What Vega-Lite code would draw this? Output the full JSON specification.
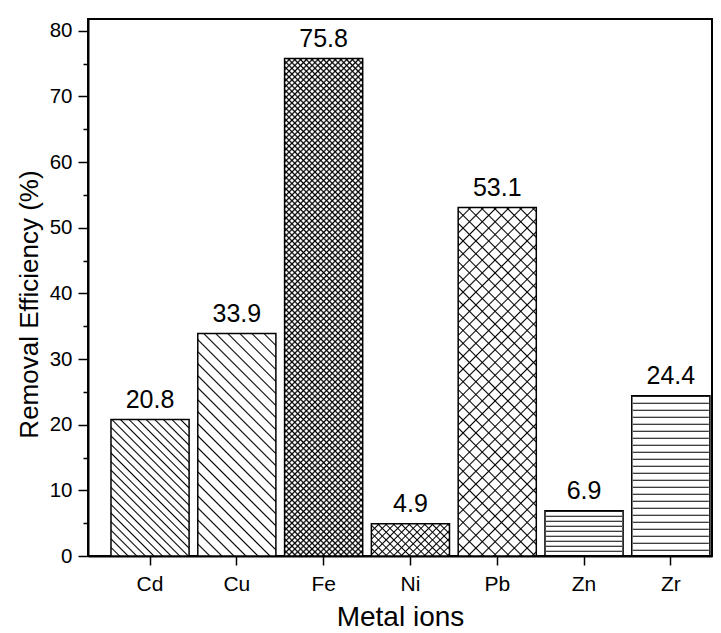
{
  "$schema": "https://vega.github.io/schema/vega-lite/v6.json",
  "width": 624,
  "height": 537,
  "autosize": {"type": "none"},
  "padding": {"left": 88, "top": 19, "right": 9, "bottom": 77},
  "background": "white",
  "data": {
    "values": [
      {"ion": "Cd", "value": 20.8},
      {"ion": "Cu", "value": 33.9},
      {"ion": "Fe", "value": 75.8},
      {"ion": "Ni", "value": 4.9},
      {"ion": "Pb", "value": 53.1},
      {"ion": "Zn", "value": 6.9},
      {"ion": "Zr", "value": 24.4}
    ]
  },
  "encoding": {
    "x": {
      "field": "ion",
      "type": "nominal",
      "scale": {"domain": ["Cd","Cu","Fe","Ni","Pb","Zn","Zr"], "paddingInner": 0.1, "paddingOuter": 0.1445, "align": 0.916},
      "axis": {"title": "Metal ions", "labelAngle": 0, "tickSize": 9, "labelPadding": 8, "labelFontSize": 21, "titleFontSize": 28, "titlePadding": 9}
    },
    "y": {
      "field": "value",
      "type": "quantitative",
      "scale": {"domain": [0, 81.8], "nice": false},
      "axis": {
        "title": "Removal Efficiency (%)",
        "values": [0,5,10,15,20,25,30,35,40,45,50,55,60,65,70,75,80],
        "labelExpr": "datum.value % 10 === 0 ? datum.label : ''",
        "tickSize": {"condition": {"test": "datum.value % 10 !== 0", "value": 5}, "value": 10},
        "labelPadding": 6,
        "labelFontSize": 20.5,
        "titleFontSize": 26,
        "titlePadding": 7,
        "titleY": 285
      }
    }
  },
  "layer": [
    {
      "transform": [{"filter": {"field": "ion", "equal": "Cd"}}],
      "mark": {"type": "bar", "fill": {"gradient": "linear", "x1": 0, "y1": 1, "x2": 0.6769, "y2": -0.1846, "stops": [
        {"offset":0.033,"color":"#fff"},{"offset":0.04,"color":"#000"},{"offset":0.047,"color":"#fff"},
        {"offset":0.073,"color":"#fff"},{"offset":0.08,"color":"#000"},{"offset":0.087,"color":"#fff"},
        {"offset":0.113,"color":"#fff"},{"offset":0.12,"color":"#000"},{"offset":0.127,"color":"#fff"},
        {"offset":0.153,"color":"#fff"},{"offset":0.16,"color":"#000"},{"offset":0.167,"color":"#fff"},
        {"offset":0.193,"color":"#fff"},{"offset":0.2,"color":"#000"},{"offset":0.207,"color":"#fff"},
        {"offset":0.233,"color":"#fff"},{"offset":0.24,"color":"#000"},{"offset":0.247,"color":"#fff"},
        {"offset":0.273,"color":"#fff"},{"offset":0.28,"color":"#000"},{"offset":0.287,"color":"#fff"},
        {"offset":0.313,"color":"#fff"},{"offset":0.32,"color":"#000"},{"offset":0.327,"color":"#fff"},
        {"offset":0.353,"color":"#fff"},{"offset":0.36,"color":"#000"},{"offset":0.367,"color":"#fff"},
        {"offset":0.393,"color":"#fff"},{"offset":0.4,"color":"#000"},{"offset":0.407,"color":"#fff"},
        {"offset":0.433,"color":"#fff"},{"offset":0.44,"color":"#000"},{"offset":0.447,"color":"#fff"},
        {"offset":0.473,"color":"#fff"},{"offset":0.48,"color":"#000"},{"offset":0.487,"color":"#fff"},
        {"offset":0.513,"color":"#fff"},{"offset":0.52,"color":"#000"},{"offset":0.527,"color":"#fff"},
        {"offset":0.553,"color":"#fff"},{"offset":0.56,"color":"#000"},{"offset":0.567,"color":"#fff"},
        {"offset":0.593,"color":"#fff"},{"offset":0.6,"color":"#000"},{"offset":0.607,"color":"#fff"},
        {"offset":0.633,"color":"#fff"},{"offset":0.64,"color":"#000"},{"offset":0.647,"color":"#fff"},
        {"offset":0.673,"color":"#fff"},{"offset":0.68,"color":"#000"},{"offset":0.687,"color":"#fff"},
        {"offset":0.713,"color":"#fff"},{"offset":0.72,"color":"#000"},{"offset":0.727,"color":"#fff"},
        {"offset":0.753,"color":"#fff"},{"offset":0.76,"color":"#000"},{"offset":0.767,"color":"#fff"},
        {"offset":0.793,"color":"#fff"},{"offset":0.8,"color":"#000"},{"offset":0.807,"color":"#fff"},
        {"offset":0.833,"color":"#fff"},{"offset":0.84,"color":"#000"},{"offset":0.847,"color":"#fff"},
        {"offset":0.873,"color":"#fff"},{"offset":0.88,"color":"#000"},{"offset":0.887,"color":"#fff"},
        {"offset":0.913,"color":"#fff"},{"offset":0.92,"color":"#000"},{"offset":0.927,"color":"#fff"},
        {"offset":0.953,"color":"#fff"},{"offset":0.96,"color":"#000"},{"offset":0.967,"color":"#fff"}
      ]}}
    },
    {
      "transform": [{"filter": {"field": "ion", "equal": "Cu"}}],
      "mark": {"type": "bar", "fill": {"gradient": "linear", "x1": 0, "y1": 1, "x2": 0.4216, "y2": -0.2028, "stops": [
        {"offset":0.035,"color":"#fff"},{"offset":0.04,"color":"#000"},{"offset":0.045,"color":"#fff"},
        {"offset":0.075,"color":"#fff"},{"offset":0.08,"color":"#000"},{"offset":0.085,"color":"#fff"},
        {"offset":0.115,"color":"#fff"},{"offset":0.12,"color":"#000"},{"offset":0.125,"color":"#fff"},
        {"offset":0.155,"color":"#fff"},{"offset":0.16,"color":"#000"},{"offset":0.165,"color":"#fff"},
        {"offset":0.195,"color":"#fff"},{"offset":0.2,"color":"#000"},{"offset":0.205,"color":"#fff"},
        {"offset":0.235,"color":"#fff"},{"offset":0.24,"color":"#000"},{"offset":0.245,"color":"#fff"},
        {"offset":0.275,"color":"#fff"},{"offset":0.28,"color":"#000"},{"offset":0.285,"color":"#fff"},
        {"offset":0.315,"color":"#fff"},{"offset":0.32,"color":"#000"},{"offset":0.325,"color":"#fff"},
        {"offset":0.355,"color":"#fff"},{"offset":0.36,"color":"#000"},{"offset":0.365,"color":"#fff"},
        {"offset":0.395,"color":"#fff"},{"offset":0.4,"color":"#000"},{"offset":0.405,"color":"#fff"},
        {"offset":0.435,"color":"#fff"},{"offset":0.44,"color":"#000"},{"offset":0.445,"color":"#fff"},
        {"offset":0.475,"color":"#fff"},{"offset":0.48,"color":"#000"},{"offset":0.485,"color":"#fff"},
        {"offset":0.515,"color":"#fff"},{"offset":0.52,"color":"#000"},{"offset":0.525,"color":"#fff"},
        {"offset":0.555,"color":"#fff"},{"offset":0.56,"color":"#000"},{"offset":0.565,"color":"#fff"},
        {"offset":0.595,"color":"#fff"},{"offset":0.6,"color":"#000"},{"offset":0.605,"color":"#fff"},
        {"offset":0.635,"color":"#fff"},{"offset":0.64,"color":"#000"},{"offset":0.645,"color":"#fff"},
        {"offset":0.675,"color":"#fff"},{"offset":0.68,"color":"#000"},{"offset":0.685,"color":"#fff"},
        {"offset":0.715,"color":"#fff"},{"offset":0.72,"color":"#000"},{"offset":0.725,"color":"#fff"},
        {"offset":0.755,"color":"#fff"},{"offset":0.76,"color":"#000"},{"offset":0.765,"color":"#fff"},
        {"offset":0.795,"color":"#fff"},{"offset":0.8,"color":"#000"},{"offset":0.805,"color":"#fff"},
        {"offset":0.835,"color":"#fff"},{"offset":0.84,"color":"#000"},{"offset":0.845,"color":"#fff"},
        {"offset":0.875,"color":"#fff"},{"offset":0.88,"color":"#000"},{"offset":0.885,"color":"#fff"},
        {"offset":0.915,"color":"#fff"},{"offset":0.92,"color":"#000"},{"offset":0.925,"color":"#fff"},
        {"offset":0.955,"color":"#fff"},{"offset":0.96,"color":"#000"},{"offset":0.965,"color":"#fff"}
      ]}}
    },
    {
      "transform": [{"filter": {"field": "ion", "equal": "Fe"}}],
      "mark": {"type": "bar", "fill": {"gradient": "linear", "x1": 0, "y1": 1, "x2": 0.177, "y2": -0.129, "stops": [
        {"offset":0.007,"color":"#fff"},{"offset":0.01,"color":"#000"},{"offset":0.013,"color":"#fff"},
        {"offset":0.017,"color":"#fff"},{"offset":0.02,"color":"#000"},{"offset":0.023,"color":"#fff"},
        {"offset":0.027,"color":"#fff"},{"offset":0.03,"color":"#000"},{"offset":0.033,"color":"#fff"},
        {"offset":0.037,"color":"#fff"},{"offset":0.04,"color":"#000"},{"offset":0.043,"color":"#fff"},
        {"offset":0.047,"color":"#fff"},{"offset":0.05,"color":"#000"},{"offset":0.053,"color":"#fff"},
        {"offset":0.057,"color":"#fff"},{"offset":0.06,"color":"#000"},{"offset":0.063,"color":"#fff"},
        {"offset":0.067,"color":"#fff"},{"offset":0.07,"color":"#000"},{"offset":0.073,"color":"#fff"},
        {"offset":0.077,"color":"#fff"},{"offset":0.08,"color":"#000"},{"offset":0.083,"color":"#fff"},
        {"offset":0.087,"color":"#fff"},{"offset":0.09,"color":"#000"},{"offset":0.093,"color":"#fff"},
        {"offset":0.097,"color":"#fff"},{"offset":0.10,"color":"#000"},{"offset":0.103,"color":"#fff"},
        {"offset":0.107,"color":"#fff"},{"offset":0.11,"color":"#000"},{"offset":0.113,"color":"#fff"},
        {"offset":0.117,"color":"#fff"},{"offset":0.12,"color":"#000"},{"offset":0.123,"color":"#fff"},
        {"offset":0.127,"color":"#fff"},{"offset":0.13,"color":"#000"},{"offset":0.133,"color":"#fff"},
        {"offset":0.137,"color":"#fff"},{"offset":0.14,"color":"#000"},{"offset":0.143,"color":"#fff"},
        {"offset":0.147,"color":"#fff"},{"offset":0.15,"color":"#000"},{"offset":0.153,"color":"#fff"},
        {"offset":0.157,"color":"#fff"},{"offset":0.16,"color":"#000"},{"offset":0.163,"color":"#fff"},
        {"offset":0.167,"color":"#fff"},{"offset":0.17,"color":"#000"},{"offset":0.173,"color":"#fff"},
        {"offset":0.177,"color":"#fff"},{"offset":0.18,"color":"#000"},{"offset":0.183,"color":"#fff"},
        {"offset":0.187,"color":"#fff"},{"offset":0.19,"color":"#000"},{"offset":0.193,"color":"#fff"},
        {"offset":0.197,"color":"#fff"},{"offset":0.20,"color":"#000"},{"offset":0.203,"color":"#fff"},
        {"offset":0.207,"color":"#fff"},{"offset":0.21,"color":"#000"},{"offset":0.213,"color":"#fff"},
        {"offset":0.217,"color":"#fff"},{"offset":0.22,"color":"#000"},{"offset":0.223,"color":"#fff"},
        {"offset":0.227,"color":"#fff"},{"offset":0.23,"color":"#000"},{"offset":0.233,"color":"#fff"},
        {"offset":0.237,"color":"#fff"},{"offset":0.24,"color":"#000"},{"offset":0.243,"color":"#fff"},
        {"offset":0.247,"color":"#fff"},{"offset":0.25,"color":"#000"},{"offset":0.253,"color":"#fff"},
        {"offset":0.257,"color":"#fff"},{"offset":0.26,"color":"#000"},{"offset":0.263,"color":"#fff"},
        {"offset":0.267,"color":"#fff"},{"offset":0.27,"color":"#000"},{"offset":0.273,"color":"#fff"},
        {"offset":0.277,"color":"#fff"},{"offset":0.28,"color":"#000"},{"offset":0.283,"color":"#fff"},
        {"offset":0.287,"color":"#fff"},{"offset":0.29,"color":"#000"},{"offset":0.293,"color":"#fff"},
        {"offset":0.297,"color":"#fff"},{"offset":0.30,"color":"#000"},{"offset":0.303,"color":"#fff"},
        {"offset":0.307,"color":"#fff"},{"offset":0.31,"color":"#000"},{"offset":0.313,"color":"#fff"},
        {"offset":0.317,"color":"#fff"},{"offset":0.32,"color":"#000"},{"offset":0.323,"color":"#fff"},
        {"offset":0.327,"color":"#fff"},{"offset":0.33,"color":"#000"},{"offset":0.333,"color":"#fff"},
        {"offset":0.337,"color":"#fff"},{"offset":0.34,"color":"#000"},{"offset":0.343,"color":"#fff"},
        {"offset":0.347,"color":"#fff"},{"offset":0.35,"color":"#000"},{"offset":0.353,"color":"#fff"},
        {"offset":0.357,"color":"#fff"},{"offset":0.36,"color":"#000"},{"offset":0.363,"color":"#fff"},
        {"offset":0.367,"color":"#fff"},{"offset":0.37,"color":"#000"},{"offset":0.373,"color":"#fff"},
        {"offset":0.377,"color":"#fff"},{"offset":0.38,"color":"#000"},{"offset":0.383,"color":"#fff"},
        {"offset":0.387,"color":"#fff"},{"offset":0.39,"color":"#000"},{"offset":0.393,"color":"#fff"},
        {"offset":0.397,"color":"#fff"},{"offset":0.40,"color":"#000"},{"offset":0.403,"color":"#fff"},
        {"offset":0.407,"color":"#fff"},{"offset":0.41,"color":"#000"},{"offset":0.413,"color":"#fff"},
        {"offset":0.417,"color":"#fff"},{"offset":0.42,"color":"#000"},{"offset":0.423,"color":"#fff"},
        {"offset":0.427,"color":"#fff"},{"offset":0.43,"color":"#000"},{"offset":0.433,"color":"#fff"},
        {"offset":0.437,"color":"#fff"},{"offset":0.44,"color":"#000"},{"offset":0.443,"color":"#fff"},
        {"offset":0.447,"color":"#fff"},{"offset":0.45,"color":"#000"},{"offset":0.453,"color":"#fff"},
        {"offset":0.457,"color":"#fff"},{"offset":0.46,"color":"#000"},{"offset":0.463,"color":"#fff"},
        {"offset":0.467,"color":"#fff"},{"offset":0.47,"color":"#000"},{"offset":0.473,"color":"#fff"},
        {"offset":0.477,"color":"#fff"},{"offset":0.48,"color":"#000"},{"offset":0.483,"color":"#fff"},
        {"offset":0.487,"color":"#fff"},{"offset":0.49,"color":"#000"},{"offset":0.493,"color":"#fff"},
        {"offset":0.497,"color":"#fff"},{"offset":0.50,"color":"#000"},{"offset":0.503,"color":"#fff"},
        {"offset":0.507,"color":"#fff"},{"offset":0.51,"color":"#000"},{"offset":0.513,"color":"#fff"},
        {"offset":0.517,"color":"#fff"},{"offset":0.52,"color":"#000"},{"offset":0.523,"color":"#fff"},
        {"offset":0.527,"color":"#fff"},{"offset":0.53,"color":"#000"},{"offset":0.533,"color":"#fff"},
        {"offset":0.537,"color":"#fff"},{"offset":0.54,"color":"#000"},{"offset":0.543,"color":"#fff"},
        {"offset":0.547,"color":"#fff"},{"offset":0.55,"color":"#000"},{"offset":0.553,"color":"#fff"},
        {"offset":0.557,"color":"#fff"},{"offset":0.56,"color":"#000"},{"offset":0.563,"color":"#fff"},
        {"offset":0.567,"color":"#fff"},{"offset":0.57,"color":"#000"},{"offset":0.573,"color":"#fff"},
        {"offset":0.577,"color":"#fff"},{"offset":0.58,"color":"#000"},{"offset":0.583,"color":"#fff"},
        {"offset":0.587,"color":"#fff"},{"offset":0.59,"color":"#000"},{"offset":0.593,"color":"#fff"},
        {"offset":0.597,"color":"#fff"},{"offset":0.60,"color":"#000"},{"offset":0.603,"color":"#fff"},
        {"offset":0.607,"color":"#fff"},{"offset":0.61,"color":"#000"},{"offset":0.613,"color":"#fff"},
        {"offset":0.617,"color":"#fff"},{"offset":0.62,"color":"#000"},{"offset":0.623,"color":"#fff"},
        {"offset":0.627,"color":"#fff"},{"offset":0.63,"color":"#000"},{"offset":0.633,"color":"#fff"},
        {"offset":0.637,"color":"#fff"},{"offset":0.64,"color":"#000"},{"offset":0.643,"color":"#fff"},
        {"offset":0.647,"color":"#fff"},{"offset":0.65,"color":"#000"},{"offset":0.653,"color":"#fff"},
        {"offset":0.657,"color":"#fff"},{"offset":0.66,"color":"#000"},{"offset":0.663,"color":"#fff"},
        {"offset":0.667,"color":"#fff"},{"offset":0.67,"color":"#000"},{"offset":0.673,"color":"#fff"},
        {"offset":0.677,"color":"#fff"},{"offset":0.68,"color":"#000"},{"offset":0.683,"color":"#fff"},
        {"offset":0.687,"color":"#fff"},{"offset":0.69,"color":"#000"},{"offset":0.693,"color":"#fff"},
        {"offset":0.697,"color":"#fff"},{"offset":0.70,"color":"#000"},{"offset":0.703,"color":"#fff"},
        {"offset":0.707,"color":"#fff"},{"offset":0.71,"color":"#000"},{"offset":0.713,"color":"#fff"},
        {"offset":0.717,"color":"#fff"},{"offset":0.72,"color":"#000"},{"offset":0.723,"color":"#fff"},
        {"offset":0.727,"color":"#fff"},{"offset":0.73,"color":"#000"},{"offset":0.733,"color":"#fff"},
        {"offset":0.737,"color":"#fff"},{"offset":0.74,"color":"#000"},{"offset":0.743,"color":"#fff"},
        {"offset":0.747,"color":"#fff"},{"offset":0.75,"color":"#000"},{"offset":0.753,"color":"#fff"},
        {"offset":0.757,"color":"#fff"},{"offset":0.76,"color":"#000"},{"offset":0.763,"color":"#fff"},
        {"offset":0.767,"color":"#fff"},{"offset":0.77,"color":"#000"},{"offset":0.773,"color":"#fff"},
        {"offset":0.777,"color":"#fff"},{"offset":0.78,"color":"#000"},{"offset":0.783,"color":"#fff"},
        {"offset":0.787,"color":"#fff"},{"offset":0.79,"color":"#000"},{"offset":0.793,"color":"#fff"},
        {"offset":0.797,"color":"#fff"},{"offset":0.80,"color":"#000"},{"offset":0.803,"color":"#fff"},
        {"offset":0.807,"color":"#fff"},{"offset":0.81,"color":"#000"},{"offset":0.813,"color":"#fff"},
        {"offset":0.817,"color":"#fff"},{"offset":0.82,"color":"#000"},{"offset":0.823,"color":"#fff"},
        {"offset":0.827,"color":"#fff"},{"offset":0.83,"color":"#000"},{"offset":0.833,"color":"#fff"},
        {"offset":0.837,"color":"#fff"},{"offset":0.84,"color":"#000"},{"offset":0.843,"color":"#fff"},
        {"offset":0.847,"color":"#fff"},{"offset":0.85,"color":"#000"},{"offset":0.853,"color":"#fff"},
        {"offset":0.857,"color":"#fff"},{"offset":0.86,"color":"#000"},{"offset":0.863,"color":"#fff"},
        {"offset":0.867,"color":"#fff"},{"offset":0.87,"color":"#000"},{"offset":0.873,"color":"#fff"},
        {"offset":0.877,"color":"#fff"},{"offset":0.88,"color":"#000"},{"offset":0.883,"color":"#fff"},
        {"offset":0.887,"color":"#fff"},{"offset":0.89,"color":"#000"},{"offset":0.893,"color":"#fff"},
        {"offset":0.897,"color":"#fff"},{"offset":0.90,"color":"#000"},{"offset":0.903,"color":"#fff"},
        {"offset":0.907,"color":"#fff"},{"offset":0.91,"color":"#000"},{"offset":0.913,"color":"#fff"},
        {"offset":0.917,"color":"#fff"},{"offset":0.92,"color":"#000"},{"offset":0.923,"color":"#fff"},
        {"offset":0.927,"color":"#fff"},{"offset":0.93,"color":"#000"},{"offset":0.933,"color":"#fff"},
        {"offset":0.937,"color":"#fff"},{"offset":0.94,"color":"#000"},{"offset":0.943,"color":"#fff"},
        {"offset":0.947,"color":"#fff"},{"offset":0.95,"color":"#000"},{"offset":0.953,"color":"#fff"},
        {"offset":0.957,"color":"#fff"},{"offset":0.96,"color":"#000"},{"offset":0.963,"color":"#fff"},
        {"offset":0.967,"color":"#fff"},{"offset":0.97,"color":"#000"},{"offset":0.973,"color":"#fff"},
        {"offset":0.977,"color":"#fff"},{"offset":0.98,"color":"#000"},{"offset":0.983,"color":"#fff"},
        {"offset":0.987,"color":"#fff"},{"offset":0.99,"color":"#000"},{"offset":0.993,"color":"#fff"}
      ]}}
    },
    {
      "transform": [{"filter": {"field": "ion", "equal": "Fe"}}],
      "mark": {"type": "bar", "fill": {"gradient": "linear", "x1": 0, "y1": 0, "x2": 0.177, "y2": 1.129, "stops": [
        {"offset":0.007,"color":"#0000"},{"offset":0.01,"color":"#000"},{"offset":0.013,"color":"#0000"},
        {"offset":0.017,"color":"#0000"},{"offset":0.02,"color":"#000"},{"offset":0.023,"color":"#0000"},
        {"offset":0.027,"color":"#0000"},{"offset":0.03,"color":"#000"},{"offset":0.033,"color":"#0000"},
        {"offset":0.037,"color":"#0000"},{"offset":0.04,"color":"#000"},{"offset":0.043,"color":"#0000"},
        {"offset":0.047,"color":"#0000"},{"offset":0.05,"color":"#000"},{"offset":0.053,"color":"#0000"},
        {"offset":0.057,"color":"#0000"},{"offset":0.06,"color":"#000"},{"offset":0.063,"color":"#0000"},
        {"offset":0.067,"color":"#0000"},{"offset":0.07,"color":"#000"},{"offset":0.073,"color":"#0000"},
        {"offset":0.077,"color":"#0000"},{"offset":0.08,"color":"#000"},{"offset":0.083,"color":"#0000"},
        {"offset":0.087,"color":"#0000"},{"offset":0.09,"color":"#000"},{"offset":0.093,"color":"#0000"},
        {"offset":0.097,"color":"#0000"},{"offset":0.10,"color":"#000"},{"offset":0.103,"color":"#0000"},
        {"offset":0.107,"color":"#0000"},{"offset":0.11,"color":"#000"},{"offset":0.113,"color":"#0000"},
        {"offset":0.117,"color":"#0000"},{"offset":0.12,"color":"#000"},{"offset":0.123,"color":"#0000"},
        {"offset":0.127,"color":"#0000"},{"offset":0.13,"color":"#000"},{"offset":0.133,"color":"#0000"},
        {"offset":0.137,"color":"#0000"},{"offset":0.14,"color":"#000"},{"offset":0.143,"color":"#0000"},
        {"offset":0.147,"color":"#0000"},{"offset":0.15,"color":"#000"},{"offset":0.153,"color":"#0000"},
        {"offset":0.157,"color":"#0000"},{"offset":0.16,"color":"#000"},{"offset":0.163,"color":"#0000"},
        {"offset":0.167,"color":"#0000"},{"offset":0.17,"color":"#000"},{"offset":0.173,"color":"#0000"},
        {"offset":0.177,"color":"#0000"},{"offset":0.18,"color":"#000"},{"offset":0.183,"color":"#0000"},
        {"offset":0.187,"color":"#0000"},{"offset":0.19,"color":"#000"},{"offset":0.193,"color":"#0000"},
        {"offset":0.197,"color":"#0000"},{"offset":0.20,"color":"#000"},{"offset":0.203,"color":"#0000"},
        {"offset":0.207,"color":"#0000"},{"offset":0.21,"color":"#000"},{"offset":0.213,"color":"#0000"},
        {"offset":0.217,"color":"#0000"},{"offset":0.22,"color":"#000"},{"offset":0.223,"color":"#0000"},
        {"offset":0.227,"color":"#0000"},{"offset":0.23,"color":"#000"},{"offset":0.233,"color":"#0000"},
        {"offset":0.237,"color":"#0000"},{"offset":0.24,"color":"#000"},{"offset":0.243,"color":"#0000"},
        {"offset":0.247,"color":"#0000"},{"offset":0.25,"color":"#000"},{"offset":0.253,"color":"#0000"},
        {"offset":0.257,"color":"#0000"},{"offset":0.26,"color":"#000"},{"offset":0.263,"color":"#0000"},
        {"offset":0.267,"color":"#0000"},{"offset":0.27,"color":"#000"},{"offset":0.273,"color":"#0000"},
        {"offset":0.277,"color":"#0000"},{"offset":0.28,"color":"#000"},{"offset":0.283,"color":"#0000"},
        {"offset":0.287,"color":"#0000"},{"offset":0.29,"color":"#000"},{"offset":0.293,"color":"#0000"},
        {"offset":0.297,"color":"#0000"},{"offset":0.30,"color":"#000"},{"offset":0.303,"color":"#0000"},
        {"offset":0.307,"color":"#0000"},{"offset":0.31,"color":"#000"},{"offset":0.313,"color":"#0000"},
        {"offset":0.317,"color":"#0000"},{"offset":0.32,"color":"#000"},{"offset":0.323,"color":"#0000"},
        {"offset":0.327,"color":"#0000"},{"offset":0.33,"color":"#000"},{"offset":0.333,"color":"#0000"},
        {"offset":0.337,"color":"#0000"},{"offset":0.34,"color":"#000"},{"offset":0.343,"color":"#0000"},
        {"offset":0.347,"color":"#0000"},{"offset":0.35,"color":"#000"},{"offset":0.353,"color":"#0000"},
        {"offset":0.357,"color":"#0000"},{"offset":0.36,"color":"#000"},{"offset":0.363,"color":"#0000"},
        {"offset":0.367,"color":"#0000"},{"offset":0.37,"color":"#000"},{"offset":0.373,"color":"#0000"},
        {"offset":0.377,"color":"#0000"},{"offset":0.38,"color":"#000"},{"offset":0.383,"color":"#0000"},
        {"offset":0.387,"color":"#0000"},{"offset":0.39,"color":"#000"},{"offset":0.393,"color":"#0000"},
        {"offset":0.397,"color":"#0000"},{"offset":0.40,"color":"#000"},{"offset":0.403,"color":"#0000"},
        {"offset":0.407,"color":"#0000"},{"offset":0.41,"color":"#000"},{"offset":0.413,"color":"#0000"},
        {"offset":0.417,"color":"#0000"},{"offset":0.42,"color":"#000"},{"offset":0.423,"color":"#0000"},
        {"offset":0.427,"color":"#0000"},{"offset":0.43,"color":"#000"},{"offset":0.433,"color":"#0000"},
        {"offset":0.437,"color":"#0000"},{"offset":0.44,"color":"#000"},{"offset":0.443,"color":"#0000"},
        {"offset":0.447,"color":"#0000"},{"offset":0.45,"color":"#000"},{"offset":0.453,"color":"#0000"},
        {"offset":0.457,"color":"#0000"},{"offset":0.46,"color":"#000"},{"offset":0.463,"color":"#0000"},
        {"offset":0.467,"color":"#0000"},{"offset":0.47,"color":"#000"},{"offset":0.473,"color":"#0000"},
        {"offset":0.477,"color":"#0000"},{"offset":0.48,"color":"#000"},{"offset":0.483,"color":"#0000"},
        {"offset":0.487,"color":"#0000"},{"offset":0.49,"color":"#000"},{"offset":0.493,"color":"#0000"},
        {"offset":0.497,"color":"#0000"},{"offset":0.50,"color":"#000"},{"offset":0.503,"color":"#0000"},
        {"offset":0.507,"color":"#0000"},{"offset":0.51,"color":"#000"},{"offset":0.513,"color":"#0000"},
        {"offset":0.517,"color":"#0000"},{"offset":0.52,"color":"#000"},{"offset":0.523,"color":"#0000"},
        {"offset":0.527,"color":"#0000"},{"offset":0.53,"color":"#000"},{"offset":0.533,"color":"#0000"},
        {"offset":0.537,"color":"#0000"},{"offset":0.54,"color":"#000"},{"offset":0.543,"color":"#0000"},
        {"offset":0.547,"color":"#0000"},{"offset":0.55,"color":"#000"},{"offset":0.553,"color":"#0000"},
        {"offset":0.557,"color":"#0000"},{"offset":0.56,"color":"#000"},{"offset":0.563,"color":"#0000"},
        {"offset":0.567,"color":"#0000"},{"offset":0.57,"color":"#000"},{"offset":0.573,"color":"#0000"},
        {"offset":0.577,"color":"#0000"},{"offset":0.58,"color":"#000"},{"offset":0.583,"color":"#0000"},
        {"offset":0.587,"color":"#0000"},{"offset":0.59,"color":"#000"},{"offset":0.593,"color":"#0000"},
        {"offset":0.597,"color":"#0000"},{"offset":0.60,"color":"#000"},{"offset":0.603,"color":"#0000"},
        {"offset":0.607,"color":"#0000"},{"offset":0.61,"color":"#000"},{"offset":0.613,"color":"#0000"},
        {"offset":0.617,"color":"#0000"},{"offset":0.62,"color":"#000"},{"offset":0.623,"color":"#0000"},
        {"offset":0.627,"color":"#0000"},{"offset":0.63,"color":"#000"},{"offset":0.633,"color":"#0000"},
        {"offset":0.637,"color":"#0000"},{"offset":0.64,"color":"#000"},{"offset":0.643,"color":"#0000"},
        {"offset":0.647,"color":"#0000"},{"offset":0.65,"color":"#000"},{"offset":0.653,"color":"#0000"},
        {"offset":0.657,"color":"#0000"},{"offset":0.66,"color":"#000"},{"offset":0.663,"color":"#0000"},
        {"offset":0.667,"color":"#0000"},{"offset":0.67,"color":"#000"},{"offset":0.673,"color":"#0000"},
        {"offset":0.677,"color":"#0000"},{"offset":0.68,"color":"#000"},{"offset":0.683,"color":"#0000"},
        {"offset":0.687,"color":"#0000"},{"offset":0.69,"color":"#000"},{"offset":0.693,"color":"#0000"},
        {"offset":0.697,"color":"#0000"},{"offset":0.70,"color":"#000"},{"offset":0.703,"color":"#0000"},
        {"offset":0.707,"color":"#0000"},{"offset":0.71,"color":"#000"},{"offset":0.713,"color":"#0000"},
        {"offset":0.717,"color":"#0000"},{"offset":0.72,"color":"#000"},{"offset":0.723,"color":"#0000"},
        {"offset":0.727,"color":"#0000"},{"offset":0.73,"color":"#000"},{"offset":0.733,"color":"#0000"},
        {"offset":0.737,"color":"#0000"},{"offset":0.74,"color":"#000"},{"offset":0.743,"color":"#0000"},
        {"offset":0.747,"color":"#0000"},{"offset":0.75,"color":"#000"},{"offset":0.753,"color":"#0000"},
        {"offset":0.757,"color":"#0000"},{"offset":0.76,"color":"#000"},{"offset":0.763,"color":"#0000"},
        {"offset":0.767,"color":"#0000"},{"offset":0.77,"color":"#000"},{"offset":0.773,"color":"#0000"},
        {"offset":0.777,"color":"#0000"},{"offset":0.78,"color":"#000"},{"offset":0.783,"color":"#0000"},
        {"offset":0.787,"color":"#0000"},{"offset":0.79,"color":"#000"},{"offset":0.793,"color":"#0000"},
        {"offset":0.797,"color":"#0000"},{"offset":0.80,"color":"#000"},{"offset":0.803,"color":"#0000"},
        {"offset":0.807,"color":"#0000"},{"offset":0.81,"color":"#000"},{"offset":0.813,"color":"#0000"},
        {"offset":0.817,"color":"#0000"},{"offset":0.82,"color":"#000"},{"offset":0.823,"color":"#0000"},
        {"offset":0.827,"color":"#0000"},{"offset":0.83,"color":"#000"},{"offset":0.833,"color":"#0000"},
        {"offset":0.837,"color":"#0000"},{"offset":0.84,"color":"#000"},{"offset":0.843,"color":"#0000"},
        {"offset":0.847,"color":"#0000"},{"offset":0.85,"color":"#000"},{"offset":0.853,"color":"#0000"},
        {"offset":0.857,"color":"#0000"},{"offset":0.86,"color":"#000"},{"offset":0.863,"color":"#0000"},
        {"offset":0.867,"color":"#0000"},{"offset":0.87,"color":"#000"},{"offset":0.873,"color":"#0000"},
        {"offset":0.877,"color":"#0000"},{"offset":0.88,"color":"#000"},{"offset":0.883,"color":"#0000"},
        {"offset":0.887,"color":"#0000"},{"offset":0.89,"color":"#000"},{"offset":0.893,"color":"#0000"},
        {"offset":0.897,"color":"#0000"},{"offset":0.90,"color":"#000"},{"offset":0.903,"color":"#0000"},
        {"offset":0.907,"color":"#0000"},{"offset":0.91,"color":"#000"},{"offset":0.913,"color":"#0000"},
        {"offset":0.917,"color":"#0000"},{"offset":0.92,"color":"#000"},{"offset":0.923,"color":"#0000"},
        {"offset":0.927,"color":"#0000"},{"offset":0.93,"color":"#000"},{"offset":0.933,"color":"#0000"},
        {"offset":0.937,"color":"#0000"},{"offset":0.94,"color":"#000"},{"offset":0.943,"color":"#0000"},
        {"offset":0.947,"color":"#0000"},{"offset":0.95,"color":"#000"},{"offset":0.953,"color":"#0000"},
        {"offset":0.957,"color":"#0000"},{"offset":0.96,"color":"#000"},{"offset":0.963,"color":"#0000"},
        {"offset":0.967,"color":"#0000"},{"offset":0.97,"color":"#000"},{"offset":0.973,"color":"#0000"},
        {"offset":0.977,"color":"#0000"},{"offset":0.98,"color":"#000"},{"offset":0.983,"color":"#0000"},
        {"offset":0.987,"color":"#0000"},{"offset":0.99,"color":"#000"},{"offset":0.993,"color":"#0000"}
      ]}}
    },
    {
      "transform": [{"filter": {"field": "ion", "equal": "Ni"}}],
      "mark": {"type": "bar", "fill": {"gradient": "linear", "x1": 0, "y1": 1, "x2": 1.2071, "y2": 0.5017, "stops": [
        {"offset":0.057,"color":"#fff"},{"offset":0.07,"color":"#000"},{"offset":0.083,"color":"#fff"},
        {"offset":0.127,"color":"#fff"},{"offset":0.14,"color":"#000"},{"offset":0.153,"color":"#fff"},
        {"offset":0.197,"color":"#fff"},{"offset":0.21,"color":"#000"},{"offset":0.223,"color":"#fff"},
        {"offset":0.267,"color":"#fff"},{"offset":0.28,"color":"#000"},{"offset":0.293,"color":"#fff"},
        {"offset":0.337,"color":"#fff"},{"offset":0.35,"color":"#000"},{"offset":0.363,"color":"#fff"},
        {"offset":0.407,"color":"#fff"},{"offset":0.42,"color":"#000"},{"offset":0.433,"color":"#fff"},
        {"offset":0.477,"color":"#fff"},{"offset":0.49,"color":"#000"},{"offset":0.503,"color":"#fff"},
        {"offset":0.547,"color":"#fff"},{"offset":0.56,"color":"#000"},{"offset":0.573,"color":"#fff"},
        {"offset":0.617,"color":"#fff"},{"offset":0.63,"color":"#000"},{"offset":0.643,"color":"#fff"},
        {"offset":0.687,"color":"#fff"},{"offset":0.70,"color":"#000"},{"offset":0.713,"color":"#fff"},
        {"offset":0.757,"color":"#fff"},{"offset":0.77,"color":"#000"},{"offset":0.783,"color":"#fff"},
        {"offset":0.827,"color":"#fff"},{"offset":0.84,"color":"#000"},{"offset":0.853,"color":"#fff"},
        {"offset":0.897,"color":"#fff"},{"offset":0.91,"color":"#000"},{"offset":0.923,"color":"#fff"},
        {"offset":0.967,"color":"#fff"},{"offset":0.98,"color":"#000"},{"offset":0.993,"color":"#fff"}
      ]}}
    },
    {
      "transform": [{"filter": {"field": "ion", "equal": "Ni"}}],
      "mark": {"type": "bar", "fill": {"gradient": "linear", "x1": 0, "y1": 0, "x2": 1.2071, "y2": 0.4983, "stops": [
        {"offset":0.057,"color":"#0000"},{"offset":0.07,"color":"#000"},{"offset":0.083,"color":"#0000"},
        {"offset":0.127,"color":"#0000"},{"offset":0.14,"color":"#000"},{"offset":0.153,"color":"#0000"},
        {"offset":0.197,"color":"#0000"},{"offset":0.21,"color":"#000"},{"offset":0.223,"color":"#0000"},
        {"offset":0.267,"color":"#0000"},{"offset":0.28,"color":"#000"},{"offset":0.293,"color":"#0000"},
        {"offset":0.337,"color":"#0000"},{"offset":0.35,"color":"#000"},{"offset":0.363,"color":"#0000"},
        {"offset":0.407,"color":"#0000"},{"offset":0.42,"color":"#000"},{"offset":0.433,"color":"#0000"},
        {"offset":0.477,"color":"#0000"},{"offset":0.49,"color":"#000"},{"offset":0.503,"color":"#0000"},
        {"offset":0.547,"color":"#0000"},{"offset":0.56,"color":"#000"},{"offset":0.573,"color":"#0000"},
        {"offset":0.617,"color":"#0000"},{"offset":0.63,"color":"#000"},{"offset":0.643,"color":"#0000"},
        {"offset":0.687,"color":"#0000"},{"offset":0.70,"color":"#000"},{"offset":0.713,"color":"#0000"},
        {"offset":0.757,"color":"#0000"},{"offset":0.77,"color":"#000"},{"offset":0.783,"color":"#0000"},
        {"offset":0.827,"color":"#0000"},{"offset":0.84,"color":"#000"},{"offset":0.853,"color":"#0000"},
        {"offset":0.897,"color":"#0000"},{"offset":0.91,"color":"#000"},{"offset":0.923,"color":"#0000"},
        {"offset":0.967,"color":"#0000"},{"offset":0.98,"color":"#000"},{"offset":0.993,"color":"#0000"}
      ]}}
    },
    {
      "transform": [{"filter": {"field": "ion", "equal": "Pb"}}],
      "mark": {"type": "bar", "fill": {"gradient": "linear", "x1": 0, "y1": 1, "x2": 0.2608, "y2": -0.1654, "stops": [
        {"offset":0.0265,"color":"#fff"},{"offset":0.03,"color":"#000"},{"offset":0.0335,"color":"#fff"},
        {"offset":0.0565,"color":"#fff"},{"offset":0.06,"color":"#000"},{"offset":0.0635,"color":"#fff"},
        {"offset":0.0865,"color":"#fff"},{"offset":0.09,"color":"#000"},{"offset":0.0935,"color":"#fff"},
        {"offset":0.1165,"color":"#fff"},{"offset":0.12,"color":"#000"},{"offset":0.1235,"color":"#fff"},
        {"offset":0.1465,"color":"#fff"},{"offset":0.15,"color":"#000"},{"offset":0.1535,"color":"#fff"},
        {"offset":0.1765,"color":"#fff"},{"offset":0.18,"color":"#000"},{"offset":0.1835,"color":"#fff"},
        {"offset":0.2065,"color":"#fff"},{"offset":0.21,"color":"#000"},{"offset":0.2135,"color":"#fff"},
        {"offset":0.2365,"color":"#fff"},{"offset":0.24,"color":"#000"},{"offset":0.2435,"color":"#fff"},
        {"offset":0.2665,"color":"#fff"},{"offset":0.27,"color":"#000"},{"offset":0.2735,"color":"#fff"},
        {"offset":0.2965,"color":"#fff"},{"offset":0.30,"color":"#000"},{"offset":0.3035,"color":"#fff"},
        {"offset":0.3265,"color":"#fff"},{"offset":0.33,"color":"#000"},{"offset":0.3335,"color":"#fff"},
        {"offset":0.3565,"color":"#fff"},{"offset":0.36,"color":"#000"},{"offset":0.3635,"color":"#fff"},
        {"offset":0.3865,"color":"#fff"},{"offset":0.39,"color":"#000"},{"offset":0.3935,"color":"#fff"},
        {"offset":0.4165,"color":"#fff"},{"offset":0.42,"color":"#000"},{"offset":0.4235,"color":"#fff"},
        {"offset":0.4465,"color":"#fff"},{"offset":0.45,"color":"#000"},{"offset":0.4535,"color":"#fff"},
        {"offset":0.4765,"color":"#fff"},{"offset":0.48,"color":"#000"},{"offset":0.4835,"color":"#fff"},
        {"offset":0.5065,"color":"#fff"},{"offset":0.51,"color":"#000"},{"offset":0.5135,"color":"#fff"},
        {"offset":0.5365,"color":"#fff"},{"offset":0.54,"color":"#000"},{"offset":0.5435,"color":"#fff"},
        {"offset":0.5665,"color":"#fff"},{"offset":0.57,"color":"#000"},{"offset":0.5735,"color":"#fff"},
        {"offset":0.5965,"color":"#fff"},{"offset":0.60,"color":"#000"},{"offset":0.6035,"color":"#fff"},
        {"offset":0.6265,"color":"#fff"},{"offset":0.63,"color":"#000"},{"offset":0.6335,"color":"#fff"},
        {"offset":0.6565,"color":"#fff"},{"offset":0.66,"color":"#000"},{"offset":0.6635,"color":"#fff"},
        {"offset":0.6865,"color":"#fff"},{"offset":0.69,"color":"#000"},{"offset":0.6935,"color":"#fff"},
        {"offset":0.7165,"color":"#fff"},{"offset":0.72,"color":"#000"},{"offset":0.7235,"color":"#fff"},
        {"offset":0.7465,"color":"#fff"},{"offset":0.75,"color":"#000"},{"offset":0.7535,"color":"#fff"},
        {"offset":0.7765,"color":"#fff"},{"offset":0.78,"color":"#000"},{"offset":0.7835,"color":"#fff"},
        {"offset":0.8065,"color":"#fff"},{"offset":0.81,"color":"#000"},{"offset":0.8135,"color":"#fff"},
        {"offset":0.8365,"color":"#fff"},{"offset":0.84,"color":"#000"},{"offset":0.8435,"color":"#fff"},
        {"offset":0.8665,"color":"#fff"},{"offset":0.87,"color":"#000"},{"offset":0.8735,"color":"#fff"},
        {"offset":0.8965,"color":"#fff"},{"offset":0.90,"color":"#000"},{"offset":0.9035,"color":"#fff"},
        {"offset":0.9265,"color":"#fff"},{"offset":0.93,"color":"#000"},{"offset":0.9335,"color":"#fff"},
        {"offset":0.9565,"color":"#fff"},{"offset":0.96,"color":"#000"},{"offset":0.9635,"color":"#fff"},
        {"offset":0.9865,"color":"#fff"},{"offset":0.99,"color":"#000"},{"offset":0.9935,"color":"#fff"}
      ]}}
    },
    {
      "transform": [{"filter": {"field": "ion", "equal": "Pb"}}],
      "mark": {"type": "bar", "fill": {"gradient": "linear", "x1": 0, "y1": 0, "x2": 0.2608, "y2": 1.1654, "stops": [
        {"offset":0.0265,"color":"#0000"},{"offset":0.03,"color":"#000"},{"offset":0.0335,"color":"#0000"},
        {"offset":0.0565,"color":"#0000"},{"offset":0.06,"color":"#000"},{"offset":0.0635,"color":"#0000"},
        {"offset":0.0865,"color":"#0000"},{"offset":0.09,"color":"#000"},{"offset":0.0935,"color":"#0000"},
        {"offset":0.1165,"color":"#0000"},{"offset":0.12,"color":"#000"},{"offset":0.1235,"color":"#0000"},
        {"offset":0.1465,"color":"#0000"},{"offset":0.15,"color":"#000"},{"offset":0.1535,"color":"#0000"},
        {"offset":0.1765,"color":"#0000"},{"offset":0.18,"color":"#000"},{"offset":0.1835,"color":"#0000"},
        {"offset":0.2065,"color":"#0000"},{"offset":0.21,"color":"#000"},{"offset":0.2135,"color":"#0000"},
        {"offset":0.2365,"color":"#0000"},{"offset":0.24,"color":"#000"},{"offset":0.2435,"color":"#0000"},
        {"offset":0.2665,"color":"#0000"},{"offset":0.27,"color":"#000"},{"offset":0.2735,"color":"#0000"},
        {"offset":0.2965,"color":"#0000"},{"offset":0.30,"color":"#000"},{"offset":0.3035,"color":"#0000"},
        {"offset":0.3265,"color":"#0000"},{"offset":0.33,"color":"#000"},{"offset":0.3335,"color":"#0000"},
        {"offset":0.3565,"color":"#0000"},{"offset":0.36,"color":"#000"},{"offset":0.3635,"color":"#0000"},
        {"offset":0.3865,"color":"#0000"},{"offset":0.39,"color":"#000"},{"offset":0.3935,"color":"#0000"},
        {"offset":0.4165,"color":"#0000"},{"offset":0.42,"color":"#000"},{"offset":0.4235,"color":"#0000"},
        {"offset":0.4465,"color":"#0000"},{"offset":0.45,"color":"#000"},{"offset":0.4535,"color":"#0000"},
        {"offset":0.4765,"color":"#0000"},{"offset":0.48,"color":"#000"},{"offset":0.4835,"color":"#0000"},
        {"offset":0.5065,"color":"#0000"},{"offset":0.51,"color":"#000"},{"offset":0.5135,"color":"#0000"},
        {"offset":0.5365,"color":"#0000"},{"offset":0.54,"color":"#000"},{"offset":0.5435,"color":"#0000"},
        {"offset":0.5665,"color":"#0000"},{"offset":0.57,"color":"#000"},{"offset":0.5735,"color":"#0000"},
        {"offset":0.5965,"color":"#0000"},{"offset":0.60,"color":"#000"},{"offset":0.6035,"color":"#0000"},
        {"offset":0.6265,"color":"#0000"},{"offset":0.63,"color":"#000"},{"offset":0.6335,"color":"#0000"},
        {"offset":0.6565,"color":"#0000"},{"offset":0.66,"color":"#000"},{"offset":0.6635,"color":"#0000"},
        {"offset":0.6865,"color":"#0000"},{"offset":0.69,"color":"#000"},{"offset":0.6935,"color":"#0000"},
        {"offset":0.7165,"color":"#0000"},{"offset":0.72,"color":"#000"},{"offset":0.7235,"color":"#0000"},
        {"offset":0.7465,"color":"#0000"},{"offset":0.75,"color":"#000"},{"offset":0.7535,"color":"#0000"},
        {"offset":0.7765,"color":"#0000"},{"offset":0.78,"color":"#000"},{"offset":0.7835,"color":"#0000"},
        {"offset":0.8065,"color":"#0000"},{"offset":0.81,"color":"#000"},{"offset":0.8135,"color":"#0000"},
        {"offset":0.8365,"color":"#0000"},{"offset":0.84,"color":"#000"},{"offset":0.8435,"color":"#0000"},
        {"offset":0.8665,"color":"#0000"},{"offset":0.87,"color":"#000"},{"offset":0.8735,"color":"#0000"},
        {"offset":0.8965,"color":"#0000"},{"offset":0.90,"color":"#000"},{"offset":0.9035,"color":"#0000"},
        {"offset":0.9265,"color":"#0000"},{"offset":0.93,"color":"#000"},{"offset":0.9335,"color":"#0000"},
        {"offset":0.9565,"color":"#0000"},{"offset":0.96,"color":"#000"},{"offset":0.9635,"color":"#0000"},
        {"offset":0.9865,"color":"#0000"},{"offset":0.99,"color":"#000"},{"offset":0.9935,"color":"#0000"}
      ]}}
    },
    {
      "transform": [{"filter": {"field": "ion", "equal": "Zn"}}],
      "mark": {"type": "rule", "color": "black", "strokeWidth": 76, "strokeDash": [1, 4]},
      "encoding": {"y2": {"datum": 0}}
    },
    {
      "transform": [{"filter": {"field": "ion", "equal": "Zr"}}],
      "mark": {"type": "rule", "color": "black", "strokeWidth": 76, "strokeDash": [1, 6]},
      "encoding": {"y2": {"datum": 0}}
    },
    {
      "mark": {"type": "bar", "fill": "transparent", "stroke": "black", "strokeWidth": 1.5}
    },
    {
      "mark": {"type": "text", "baseline": "alphabetic", "dy": -11.5, "fontSize": 25, "font": "Liberation Sans", "color": "black"},
      "encoding": {"text": {"field": "value", "type": "quantitative", "format": ".1f"}}
    }
  ],
  "config": {
    "font": "Liberation Sans",
    "view": {"stroke": "black", "strokeWidth": 2},
    "axis": {
      "grid": false,
      "domainColor": "black",
      "domainWidth": 2,
      "tickColor": "black",
      "tickWidth": 1.5,
      "labelColor": "black",
      "titleColor": "black",
      "labelFont": "Liberation Sans",
      "titleFont": "Liberation Sans",
      "titleFontWeight": "normal"
    }
  }
}
